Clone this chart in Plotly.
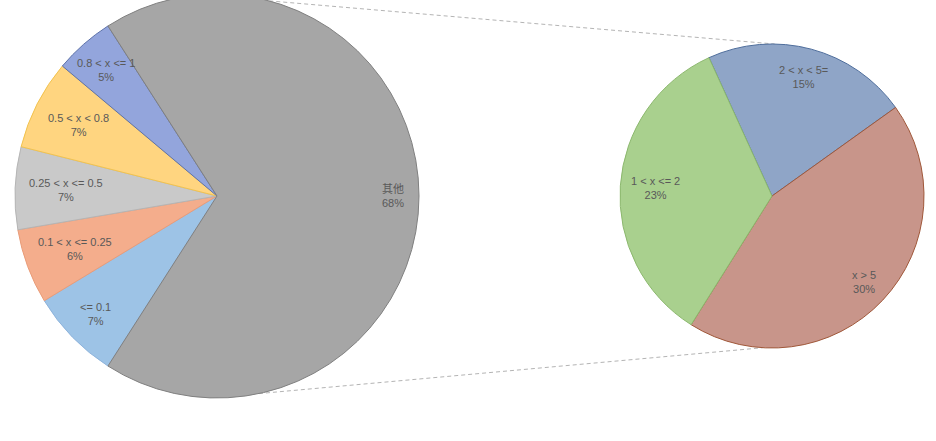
import math
import plotly.graph_objects as go

# ---- data ----
main_labels = ["<= 0.1", "0.1 < x <= 0.25", "0.25 < x <= 0.5", "0.5 < x < 0.8", "0.8 < x <= 1", "其他"]
main_values = [7.25, 6.0, 6.6, 7.2, 4.8, 68.15]
main_colors = ["#9dc3e6", "#f4ad8c", "#c9c9c9", "#ffd580", "#93a5dc", "#a6a6a6"]
main_edges = ["#8fb4dc", "#e99c78", "#b5b5b5", "#f2c34f", "#5d72aa", "#808080"]
main_label_r = [0.84, 0.75, 0.75, 0.77, 0.83, 0.87]

sub_labels = ["2 < x < 5=", "x > 5", "1 < x <= 2"]
sub_values = [14.9, 29.8, 23.3]
sub_colors = ["#8fa5c7", "#c8958a", "#a9d08e"]
sub_edges = ["#4f6e9c", "#a0583a", "#8cb86e"]
sub_label_r = [0.81, 0.83, 0.77]

SHIFT = 6                      # figure is shifted up by this many pixels on the page
W, H = 936, 441 + SHIFT
FONT = "Liberation Sans, Noto Sans CJK SC, sans-serif"
TXT = "#595959"

# pie geometry (figure pixels)
L_cx, L_cy, L_r = 217, 196 + SHIFT, 202
R_cx, R_cy, R_r = 772, 196 + SHIFT, 152


def dom(cx, cy, r):
    x0, x1 = (cx - r) / W, (cx + r) / W
    y0, y1 = 1 - (cy + r) / H, 1 - (cy - r) / H
    return dict(x=[max(0, x0), min(1, x1)], y=[max(0, y0), min(1, y1)])


def px(x, y):
    return x / W, 1 - y / H


small_total = sum(main_values[:-1])
total = sum(main_values)
rot_main = 270 - (small_total / total) * 360 / 2
rot_sub = -24.5

fig = go.Figure()
fig.add_trace(go.Pie(
    labels=main_labels, values=main_values, sort=False, direction="clockwise",
    rotation=rot_main - 360, domain=dom(L_cx, L_cy, L_r),
    marker=dict(colors=main_colors, line=dict(color=main_edges, width=1)),
    textinfo="none", hoverinfo="label+value", showlegend=False,
))
fig.add_trace(go.Pie(
    labels=sub_labels, values=sub_values, sort=False, direction="clockwise",
    rotation=rot_sub, domain=dom(R_cx, R_cy, R_r),
    marker=dict(colors=sub_colors, line=dict(color=sub_edges, width=1)),
    textinfo="none", hoverinfo="label+value", showlegend=False,
))

annotations = []


def add_labels(labels, values, rot, cx, cy, r, fracs):
    tot = sum(values)
    a = rot
    for lab, v, f in zip(labels, values, fracs):
        span = v / tot * 360
        mid = math.radians(a + span / 2)
        x = cx + f * r * math.sin(mid)
        y = cy - f * r * math.cos(mid)
        p = px(x, y)
        annotations.append(dict(
            x=p[0], y=p[1], xref="paper", yref="paper", showarrow=False,
            xanchor="center", yanchor="middle",
            text=f"{lab}<br>{v:.0f}%", align="center",
            font=dict(family=FONT, size=11, color=TXT),
        ))
        a += span


add_labels(main_labels, main_values, rot_main, L_cx, L_cy, L_r, main_label_r)
add_labels(sub_labels, sub_values, rot_sub, R_cx, R_cy, R_r, sub_label_r)

shapes = []
for a_l, a_r in [(15, 1), (168, 183.5)]:
    x0 = L_cx + L_r * math.sin(math.radians(a_l))
    y0 = L_cy - L_r * math.cos(math.radians(a_l))
    x1 = R_cx + R_r * math.sin(math.radians(a_r))
    y1 = R_cy - R_r * math.cos(math.radians(a_r))
    p0, p1 = px(x0, y0), px(x1, y1)
    shapes.append(dict(type="line", xref="paper", yref="paper", x0=p0[0], y0=p0[1],
                       x1=p1[0], y1=p1[1],
                       line=dict(color="#b4b4b4", width=1, dash="4px,3px"),
                       layer="below"))

fig.update_layout(
    width=W, height=H, margin=dict(l=0, r=0, t=0, b=0),
    paper_bgcolor="white", plot_bgcolor="white",
    shapes=shapes, annotations=annotations,
    font=dict(family=FONT, color=TXT),
)
fig.write_html(
    "out.html",
    config={"displayModeBar": False},
    post_script=f"document.body.style.margin='0px';document.body.style.marginTop='-{SHIFT}px';"
                "document.body.style.overflow='hidden';",
)
